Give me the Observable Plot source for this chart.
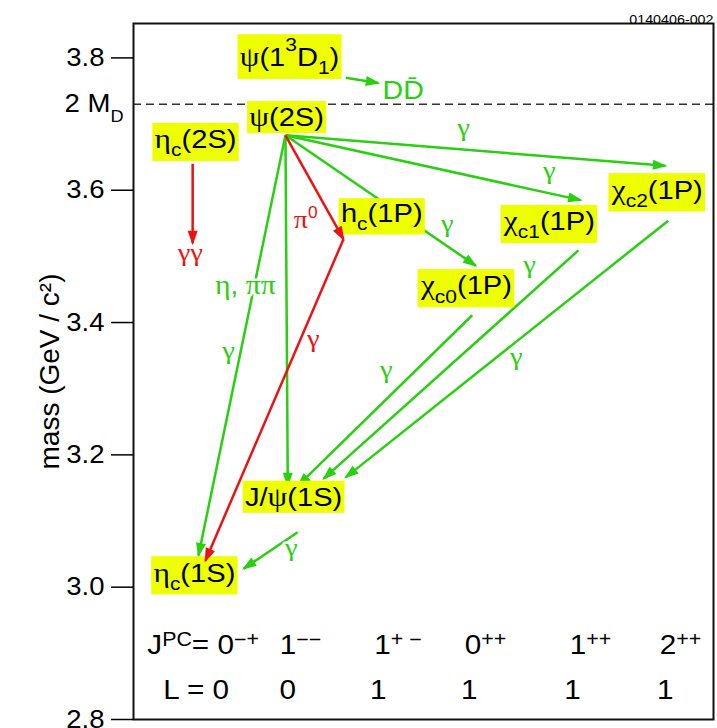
<!DOCTYPE html>
<html>
<head>
<meta charset="utf-8">
<script src="https://cdn.jsdelivr.net/npm/d3@7"></script>
<script src="https://cdn.jsdelivr.net/npm/@observablehq/plot@0.6"></script>
<style>
  html, body { margin: 0; padding: 0; background: #fff; }
  svg { display: block; }
</style>
</head>
<body>
<div id="chart"></div>
<script>
// ---------- data ----------
const massTicks = [2.8, 3.0, 3.2, 3.4, 3.6, 3.8];
const thresholdMass = 3.73;
const thresholdLabel = "2 M_{D}";
const axisLabel = "mass (GeV / c²)";
const noteLabel = "0140406-002";

// charmonium states: label text, column position (0-100 across the frame), label centre mass
const stateNames = ["ψ(1^{3}D_{1})", "ψ(2S)", "η_{c}(2S)", "h_{c}(1P)", "χ_{c0}(1P)", "χ_{c1}(1P)", "χ_{c2}(1P)", "J/ψ(1S)", "η_{c}(1S)"];
const stateX = [26.9, 26.4, 10.7, 42.8, 57.4, 71.7, 90.3, 27.6, 10.5];
const stateLabelMass = [3.800, 3.709, 3.676, 3.565, 3.455, 3.552, 3.600, 3.135, 3.021];

// transitions (arrows): start / end positions and type
const trFromX = [26.2, 26.2, 26.2, 26.2, 26.2, 26.2, 36.2, 10.2, 36.6, 58.4, 76.7, 92.2, 28.3];
const trFromM = [3.683, 3.683, 3.683, 3.683, 3.683, 3.683, 3.526, 3.640, 3.770, 3.411, 3.509, 3.554, 3.083];
const trToX   = [91.7, 77.1, 59.0, 36.2, 26.6, 11.2, 12.4, 10.2, 42.2, 28.4, 32.8, 36.6, 19.0];
const trToM   = [3.637, 3.585, 3.486, 3.526, 3.154, 3.048, 3.040, 3.520, 3.762, 3.154, 3.164, 3.166, 3.028];
const trType  = ["known", "known", "known", "new", "known", "known", "new", "new", "known", "known", "known", "known", "known"];

// transition labels
const tlText = ["γ", "γ", "γ", "π^{0}", "η, ππ", "γ", "γ", "γγ", "DD\u0304", "γ", "γ", "γ", "γ"];
const tlX    = [56.9, 71.7, 54.1, 29.7, 19.3, 16.4, 31.0, 9.8, 46.5, 43.6, 68.3, 66.0, 27.2];
const tlM    = [3.694, 3.629, 3.549, 3.554, 3.455, 3.356, 3.374, 3.505, 3.751, 3.328, 3.487, 3.348, 3.059];
const tlType = trType;
const tlSize = [24, 24, 24, 24, 25, 24, 24, 24, 26, 24, 24, 24, 24];

// quantum number rows
const jpcLabels = ["J^{PC}= 0^{−+}", "1^{−−}", "1^{+ −}", "0^{++}", "1^{++}", "2^{++}"];
const jpcX = [12.0, 28.8, 45.6, 60.7, 78.8, 94.3];
const jpcMass = 2.912;
const lLabels = ["L = 0", "0", "1", "1", "1", "1"];
const lX = [10.8, 26.6, 42.2, 57.9, 75.7, 91.7];
const lMass = 2.844;

// ---------- styling ----------
const GREEN = "#28d010";
const RED = "#ee1111";
const YELLOW = "#eeff00";
const SANS = "Liberation Sans, Arial, Helvetica, sans-serif";
const SERIF = "Liberation Serif, Times New Roman, serif";

const transitions = trType.map((t, i) => ({x1: trFromX[i], y1: trFromM[i], x2: trToX[i], y2: trToM[i], type: t}));
const tlabels = tlText.map((t, i) => ({text: t, x: tlX[i], y: tlM[i], type: tlType[i], size: tlSize[i]}));
const states = stateNames.map((n, i) => ({name: n, x: stateX[i], y: stateLabelMass[i]}));

function triangleMarker(color, context) {
  const ns = "http://www.w3.org/2000/svg";
  const doc = (context && context.document) || document;
  const m = doc.createElementNS(ns, "marker");
  m.setAttribute("viewBox", "-5.5 -2.5 7 5");
  m.setAttribute("markerWidth", 7);
  m.setAttribute("markerHeight", 5);
  m.setAttribute("orient", "auto");
  m.setAttribute("overflow", "visible");
  const p = doc.createElementNS(ns, "path");
  p.setAttribute("d", "M-5,-2L0.8,0L-5,2Z");
  p.setAttribute("fill", color);
  p.setAttribute("stroke", "none");
  m.appendChild(p);
  return m;
}

function build(marker) {
  return Plot.plot({
    width: 717,
    height: 728,
    marginLeft: 133,
    marginRight: 4,
    marginTop: 23,
    marginBottom: 9,
    style: {fontFamily: SANS, fontSize: "24px", background: "white", overflow: "visible", color: "black"},
    x: {domain: [0, 100], axis: null},
    y: {domain: [2.8, 3.852], axis: null},
    color: {domain: ["known", "new"], range: [GREEN, RED]},
    marks: [
      Plot.ruleY([thresholdMass], {stroke: "#333", strokeWidth: 1.5, strokeDasharray: "8,5"}),
      Plot.link(transitions, {filter: d => d.type === "known", x1: "x1", y1: "y1", x2: "x2", y2: "y2", stroke: "type", strokeWidth: 2.5, markerEnd: marker}),
      Plot.text(tlabels, {x: "x", y: "y", text: "text", fill: "type", fontSize: "size", stroke: "white", strokeWidth: 5, paintOrder: "stroke"}),
      Plot.text(states, {x: "x", y: "y", text: "name", fontSize: 26, fill: "black"}),
      Plot.link(transitions, {filter: d => d.type === "new", x1: "x1", y1: "y1", x2: "x2", y2: "y2", stroke: "type", strokeWidth: 2.5, markerEnd: marker}),
      Plot.text(jpcLabels, {x: (d, i) => jpcX[i], y: () => jpcMass, text: d => d, fontSize: 27}),
      Plot.text(lLabels, {x: (d, i) => lX[i], y: () => lMass, text: d => d, fontSize: 27}),
      Plot.frame({stroke: "#111", strokeWidth: 2}),
      Plot.axisY(massTicks, {anchor: "left", tickSize: 22, tickPadding: 7, fontSize: 25, strokeWidth: 1.5, tickFormat: d => d.toFixed(1), label: null}),
      Plot.text([thresholdLabel], {y: () => thresholdMass, frameAnchor: "left", textAnchor: "end", dx: -10, fontSize: 25}),
      Plot.text([noteLabel], {frameAnchor: "top-right", textAnchor: "end", dy: -9, fontSize: 13}),
      Plot.text([axisLabel], {frameAnchor: "left", textAnchor: "middle", dx: -83, rotate: -90, fontSize: 28})
    ]
  });
}

let svg;
try { svg = build(triangleMarker); } catch (e) { svg = build("arrow"); }
document.getElementById("chart").append(svg);

// remember which text elements are state labels / quantum-number rows (before rich formatting)
const stateSet = new Set(stateNames);
const rowSet = new Set(jpcLabels);
const allTexts = Array.from(svg.querySelectorAll("text"));
const stateEls = allTexts.filter(el => stateSet.has(el.textContent));
const rowEls = allTexts.filter(el => rowSet.has(el.textContent));

// ---------- rich text (sub/superscripts, Greek in serif) ----------
const NS = "http://www.w3.org/2000/svg";
function richify(el, supShift, subShift, subSize) {
  const src = el.textContent;
  if (!/[\^_]\{|[\u0370-\u03ff]/.test(src)) return;
  const fs = parseFloat(getComputedStyle(el).fontSize) || 24;
  const re = /([\^_])\{([^}]*)\}/g;
  const parts = [];
  let last = 0, m;
  while ((m = re.exec(src))) {
    if (m.index > last) parts.push({t: src.slice(last, m.index), k: "n"});
    parts.push({t: m[2], k: m[1] === "^" ? "sup" : "sub"});
    last = re.lastIndex;
  }
  if (last < src.length) parts.push({t: src.slice(last), k: "n"});
  el.textContent = "";
  let shift = 0;
  for (const p of parts) {
    const target = p.k === "sup" ? -supShift * fs : p.k === "sub" ? subShift * fs : 0;
    const size = p.k === "n" ? fs : subSize * fs;
    const runs = p.t.match(/[\u0370-\u03ff]+|[^\u0370-\u03ff]+/g) || [];
    let first = true;
    for (const r of runs) {
      const ts = document.createElementNS(NS, "tspan");
      if (first) { ts.setAttribute("dy", target - shift); shift = target; first = false; }
      const greek = /[\u0370-\u03ff]/.test(r);
      ts.setAttribute("font-size", greek && p.k === "n" ? size * 1.08 : size);
      if (greek) ts.setAttribute("font-family", SERIF);
      ts.textContent = r;
      el.appendChild(ts);
    }
  }
}
allTexts.forEach(el => {
  if (stateEls.includes(el)) richify(el, 0.58, 0.31, 0.72);
  else if (rowEls.includes(el)) richify(el, 0.3, 0.3, 0.72);
  else richify(el, 0.45, 0.38, 0.66);
});

// slightly wide lettering as in the original figure
allTexts.forEach(el => {
  const t = el.getAttribute("transform");
  const s = stateEls.includes(el) ? 1.12 : 1.1;
  if (t && !/rotate/.test(t)) el.setAttribute("transform", t + ` scale(${s},1)`);
});

// yellow boxes behind state labels
stateEls.forEach(el => {
  const bb = el.getBBox();
  const r = document.createElementNS(NS, "rect");
  r.setAttribute("x", bb.x - 2);
  r.setAttribute("y", bb.y);
  r.setAttribute("width", bb.width + 4);
  r.setAttribute("height", bb.height + 1);
  r.setAttribute("fill", YELLOW);
  r.setAttribute("stroke", "none");
  const t = el.getAttribute("transform");
  if (t) r.setAttribute("transform", t);
  el.parentNode.insertBefore(r, el);
});
</script>
</body>
</html>
